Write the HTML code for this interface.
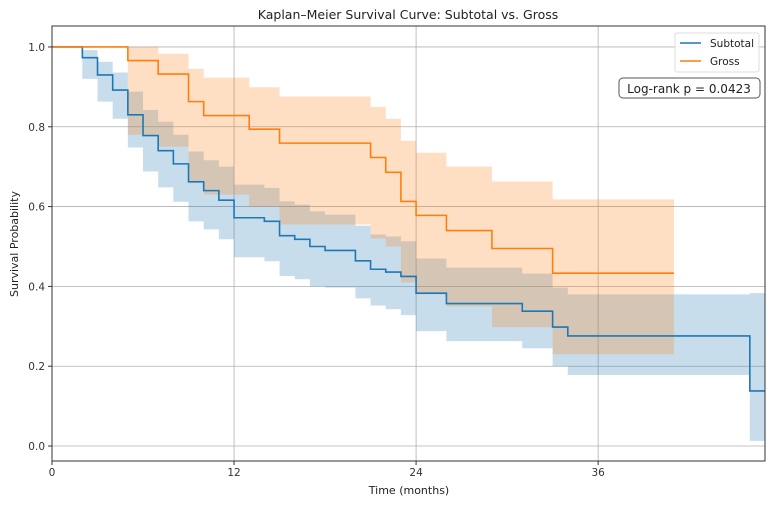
<!DOCTYPE html>
<html><head><meta charset="utf-8"><style>
body{margin:0;background:#fff;font-family:"Liberation Sans","DejaVu Sans",sans-serif;}
svg text{font-family:"DejaVu Sans","Liberation Sans",sans-serif;}
</style></head><body>
<svg id="chart" width="775" height="504" xmlns="http://www.w3.org/2000/svg">
<g id="grid"></g>
<g id="bands"></g>
<g id="lines"></g>
<g id="axes"></g>
<text x="408" y="19" font-size="12.5" text-anchor="middle" fill="#222">Kaplan–Meier Survival Curve: Subtotal vs. Gross</text>
<text x="409" y="494" font-size="11" text-anchor="middle" fill="#222">Time (months)</text>
<text x="18" y="244" font-size="11" text-anchor="middle" fill="#222" transform="rotate(-90 18 244)">Survival Probability</text>
<g>
<rect x="675" y="33" width="84" height="39" fill="#fff" fill-opacity="0.85" stroke="#ddd" rx="2"/>
<line x1="680" y1="43" x2="701" y2="43" stroke="#1f77b4" stroke-width="1.6"/>
<text x="710" y="47" font-size="10.5" fill="#222">Subtotal</text>
<line x1="680" y1="61" x2="701" y2="61" stroke="#ff7f0e" stroke-width="1.6"/>
<text x="710" y="65" font-size="10.5" fill="#222">Gross</text>
</g>
<g>
<rect x="619" y="78" width="141" height="20" rx="4" fill="#fff" stroke="#555" stroke-width="1"/>
<text x="689" y="93" font-size="12" text-anchor="middle" fill="#222">Log-rank p = 0.0423</text>
</g>
</svg>
<script>
const xTicks=[0,12,24,36];
const yTicks=[0.0,0.2,0.4,0.6,0.8,1.0];
const yTickLabels=["0.0","0.2","0.4","0.6","0.8","1.0"];
// Subtotal
const subTimes=[0,2,3,4,5,6,7,8,9,10,11,12,14,15,16,17,18,20,21,22,23,24,26,31,33,34,46];
const subSurv=[1.0,0.973,0.93,0.892,0.83,0.778,0.74,0.707,0.662,0.64,0.616,0.572,0.563,0.527,0.518,0.50,0.49,0.464,0.443,0.436,0.425,0.383,0.357,0.338,0.298,0.276,0.138];
const subUpper=[1.0,0.992,0.963,0.936,0.888,0.842,0.813,0.78,0.738,0.716,0.70,0.655,0.647,0.613,0.605,0.588,0.58,0.552,0.53,0.525,0.513,0.47,0.447,0.432,0.397,0.38,0.383];
const subLower=[1.0,0.92,0.863,0.82,0.748,0.688,0.648,0.612,0.563,0.543,0.518,0.473,0.463,0.426,0.418,0.40,0.397,0.37,0.352,0.343,0.328,0.288,0.263,0.245,0.20,0.178,0.013];
const subEnd=47;
// Gross
const grTimes=[0,5,7,9,10,13,15,21,22,23,24,26,29,33];
const grSurv=[1.0,0.966,0.932,0.863,0.828,0.794,0.759,0.723,0.686,0.613,0.578,0.54,0.495,0.433];
const grUpper=[1.0,1.0,0.983,0.945,0.923,0.899,0.876,0.85,0.82,0.765,0.735,0.70,0.663,0.618];
const grLower=[1.0,0.78,0.75,0.663,0.63,0.60,0.555,0.52,0.50,0.41,0.38,0.35,0.298,0.23];
const grEnd=41;

const L=52,R=765,T=26,B=461,xMin=0,xMax=47,yMin=-0.0375,yMax=1.0525;
const X=v=>L+(v-xMin)/(xMax-xMin)*(R-L);
const Y=v=>B-(v-yMin)/(yMax-yMin)*(B-T);
const NS="http://www.w3.org/2000/svg";
function mk(tag,attrs,parent){const e=document.createElementNS(NS,tag);for(const k in attrs)e.setAttribute(k,attrs[k]);parent.appendChild(e);return e;}
const grid=document.getElementById('grid'),axes=document.getElementById('axes'),bands=document.getElementById('bands'),lines=document.getElementById('lines');
xTicks.forEach(t=>{
 const g=mk('line',{x1:X(t),x2:X(t),y1:T,y2:B,stroke:'#b0b0b0','stroke-width':0.8},grid);
 
 
 mk('line',{x1:X(t),x2:X(t),y1:B,y2:B+4,stroke:'#333'},axes);
 const tx=mk('text',{x:X(t),y:B+15,'font-size':10.5,'text-anchor':'middle',fill:'#333'},axes);
 tx.textContent=t;
 
 
});
yTicks.forEach((t,i)=>{
 const g=mk('line',{x1:L,x2:R,y1:Y(t),y2:Y(t),stroke:'#b0b0b0','stroke-width':0.8},grid);
 
 
 mk('line',{x1:L-4,x2:L,y1:Y(t),y2:Y(t),stroke:'#333'},axes);
 const tx=mk('text',{x:L-7,y:Y(t)+4,'font-size':10.5,'text-anchor':'end',fill:'#333'},axes);
 tx.textContent=yTickLabels[i];
 
 
});
mk('rect',{x:L,y:T,width:R-L,height:B-T,fill:'none',stroke:'#333','stroke-width':1},axes);
function stepPath(times,vals,end){let d='M'+X(times[0])+','+Y(vals[0]);for(let i=1;i<times.length;i++){d+='H'+X(times[i])+'V'+Y(vals[i]);}d+='H'+X(end);return d;}
function bandPath(times,up,lo,end){let d='M'+X(times[0])+','+Y(up[0]);for(let i=1;i<times.length;i++){d+='H'+X(times[i])+'V'+Y(up[i]);}d+='H'+X(end)+'V'+Y(lo[lo.length-1]);for(let i=times.length-1;i>=1;i--){d+='H'+X(times[i])+'V'+Y(lo[i-1]);}d+='H'+X(times[0])+'Z';return d;}
const b1=mk('path',{d:bandPath(subTimes,subUpper,subLower,subEnd),fill:'#1f77b4','fill-opacity':0.25},bands);


const b2=mk('path',{d:bandPath(grTimes,grUpper,grLower,grEnd),fill:'#ff7f0e','fill-opacity':0.25},bands);


const l1=mk('path',{d:stepPath(subTimes,subSurv,subEnd),fill:'none',stroke:'#1f77b4','stroke-width':1.6},lines);


const l2=mk('path',{d:stepPath(grTimes,grSurv,grEnd),fill:'none',stroke:'#ff7f0e','stroke-width':1.6},lines);


</script>
</body></html>
